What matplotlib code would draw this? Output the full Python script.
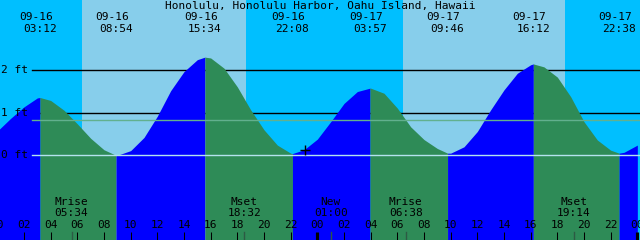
import numpy as np
import matplotlib
matplotlib.use("Agg")
import matplotlib.pyplot as plt
import matplotlib.transforms as mtransforms

# Dati (ore dal 09-16 00:00, altezza in piedi)
titolo = "Honolulu, Honolulu Harbor, Oahu Island, Hawaii"

ore = np.arange(0, 49)
altezze = [0.57, 0.87, 1.14, 1.35, 1.29, 1.06, 0.74, 0.40, 0.13, 0.00,
           0.11, 0.42, 0.92, 1.52, 1.97, 2.25, 2.29, 2.05, 1.61, 1.07,
           0.60, 0.24, 0.05, 0.13, 0.38, 0.79, 1.22, 1.50, 1.58, 1.46,
           1.11, 0.67, 0.37, 0.16, 0.05, 0.20, 0.56, 1.07, 1.54, 1.93,
           2.13, 2.08, 1.84, 1.38, 0.79, 0.36, 0.12, 0.07, 0.24]

# alte e basse maree
estremi_t = [3.2, 8.9, 15.567, 22.133, 27.95, 33.767, 40.2, 46.633]
estremi_h = [1.36, 0.00, 2.31, 0.04, 1.58, 0.05, 2.15, 0.05]
estremi_data = ["09-16", "09-16", "09-16", "09-16", "09-17", "09-17", "09-17", "09-17"]
estremi_ora = ["03:12", "08:54", "15:34", "22:08", "03:57", "09:46", "16:12", "22:38"]

# eventi lunari
luna_t = [5.567, 18.533, 25.0, 30.633, 43.233]
luna_nome = ["Mrise", "Mset", "New", "Mrise", "Mset"]
luna_ora = ["05:34", "18:32", "01:00", "06:38", "19:14"]

# alba / tramonto
giorno = [(6.35, 18.65), (30.43, 42.58)]

livelli = [0, 1, 2]
msl = 0.82
ora_adesso, h_adesso = 23.08, 0.13

notte_c = "#00BFFF"
giorno_c = "#87CEEB"
sale_c = "#0000FF"
scende_c = "#2E8B57"

# unisco campioni orari ed estremi
t_all = np.concatenate([ore, estremi_t])
h_all = np.concatenate([altezze, estremi_h])
ordine = np.argsort(t_all, kind="stable")
t_all = t_all[ordine]
h_all = h_all[ordine]

fig = plt.figure(figsize=(6.4, 2.4), dpi=100)
ax = fig.add_axes([0, 0, 1, 1])
ax.set_xlim(0.2, 48.2)
y0, y1 = -1.993, 3.654
ax.set_ylim(y0, y1)
ax.axis("off")
ax.set_facecolor(notte_c)
ax.axvspan(-5, 60, color=notte_c, zorder=0)
for a, b in giorno:
    ax.axvspan(a, b, color=giorno_c, zorder=0.5, lw=0)

# linee 1 ft e 2 ft sotto la curva
for lv in livelli[1:]:
    ax.axhline(lv, xmin=0.05, color="black", lw=1.0, zorder=1)

# riempimento: blu quando sale, verde quando scende
bordi = [0.0] + estremi_t + [48.5]
for i in range(len(bordi) - 1):
    a, b = bordi[i], bordi[i + 1]
    m = (t_all >= a - 1e-6) & (t_all <= b + 1e-6)
    sale = (i % 2 == 0)
    ax.fill_between(t_all[m], y0, h_all[m], color=sale_c if sale else scende_c,
                    lw=0, zorder=2)

# linea 0 ft e livello medio sopra
ax.axhline(0, xmin=0.05, color="#b4e2ee", lw=1.0, zorder=3)
ax.axhline(msl, xmin=0.05, color="#62b08e", lw=1.0, zorder=3)

font = dict(family="DejaVu Sans Mono", fontsize=8)

for lv in livelli:
    ax.text(0.25, lv, "%d ft" % lv, ha="left", va="center", zorder=4, **font)

ax.plot([ora_adesso], [h_adesso], marker="+", color="black", ms=7, mew=1.0, zorder=5)

# testi in coordinate: x dati, y pixel dall'alto
tr = mtransforms.blended_transform_factory(ax.transData, ax.transAxes)
def ypx(p):
    return 1 - p / 240.0

ax.text(0.5, ypx(6), titolo, transform=ax.transAxes, ha="center", va="center", **font)
for t, d, o in zip(estremi_t, estremi_data, estremi_ora):
    ax.text(t - 0.3, ypx(17.5), d, transform=tr, ha="center", va="center", **font)
    ax.text(t, ypx(29), o, transform=tr, ha="center", va="center", **font)

for t, n, o in zip(luna_t, luna_nome, luna_ora):
    ax.text(t, ypx(202), n, transform=tr, ha="center", va="center", **font)
    ax.text(t, ypx(213.5), o, transform=tr, ha="center", va="center", **font)
    ax.plot([t, t], [ypx(232), ypx(240)], transform=tr, color="#2d5a44", lw=1, zorder=4)

# tacche orarie
for h in range(0, 49, 2):
    ax.text(h, ypx(225.5), "%02d" % (h % 24), transform=tr, ha="center", va="center", **font)
    spess = 3 if h % 24 == 0 else 1
    ax.plot([h, h], [ypx(232), ypx(240.5)], transform=tr, color="black", lw=spess * 0.75,
            zorder=4, solid_capstyle="butt")

fig.savefig("out.png", dpi=100)
